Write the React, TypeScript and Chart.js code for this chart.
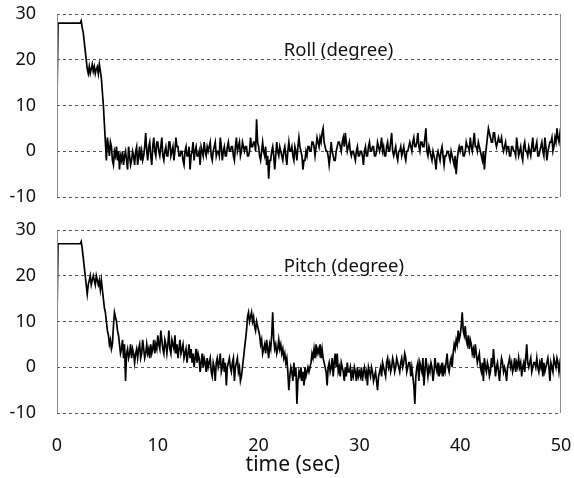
import React, { useEffect, useRef } from 'react';
import { Chart, registerables } from 'chart.js';

Chart.register(...registerables);

// ---------- data ----------
const X_MIN = 0;
const X_MAX = 50;
const X_STEP = 10;
const Y_MIN = -10;
const Y_MAX = 30;
const Y_STEP = 10;
const TIME_STEP = 0.1; // seconds between samples
const ROLL_LABEL = 'Roll (degree)';
const PITCH_LABEL = 'Pitch (degree)';
const X_TITLE = 'time (sec)';
const LABEL_POS = [22.5, 22]; // data coords of panel labels
const X_TITLE_POS = 23.4; // data x of the axis title centre

const ROLL = [
  11, 28, 28, 28, 28, 28, 28, 28, 28, 28, 28, 28, 28, 28, 28, 28, 28, 28, 28, 28, 28, 28, 28, 28, 28.5, 27, 26, 24, 22, 20, 18, 17, 18.5, 17, 18, 19, 17.5, 18.5, 17, 18, 18.5, 17, 19, 17.5, 16, 13, 10, 6, 2, -2,
  3, 1, -1, 2, 1, -2, -3, 0, -1, 1, -2, 0, -4, -1, -2, 0, -3, -1, 0, -2, -4, 1, -1, -3, -2, 0, -1, -3, 0, 1, -3, -1, 1, -2, 0, -2, -1, 1, 4, 0, -2, 1, 2, -1, -3, 1, 3, 0, -1, 2,
  2, 0, -1, 1, 3, -1, -2, 0, 1, -1, -1, 2, 2, -1, 0, 1, -2, 0, 3, 1, 1, -1, -1, 0, 0, -2, -3, 0, 1, -1, -1, 1, -4, -1, 0, 2, -2, 0, 1, -1, -1, 0, -3, 1, 0, -1, 2, 0, -1, 1,
  0, 1, 2, -1, -2, 0, 1, 2, -1, 0, 0, -1, 3, 1, -2, 0, 1, -1, -1, 1, 2, 0, 0, 1, 1, -1, -2, 1, 3, 0, 1, 2, -1, 0, 2, 1, 0, 1, 1, -1, -1, 0, 3, 1, 1, 2, 2, 0, 7, 2,
  1, -1, -2, 0, 2, 0, -1, 1, -3, -1, -6, -2, -2, 0, 1, -1, -4, -1, 2, 0, -1, 1, 0, -1, -2, 0, 1, -1, -3, 0, 2, 0, 0, 1, -1, -2, 1, 0, -2, 1, 3, 1, 0, -1, -4, -2, -2, 0, -1, 1,
  1, 0, 0, 2, 2, 1, -1, 1, 3, 2, 1, 3, 2, 4, 5, 2, 1, 0, 0, -1, -3, -1, 2, 0, -1, -2, -2, 0, 1, 2, 2, 1, 0, 2, 3, 1, 4, 2, 0, 1, 2, 0, -1, 0, 0, -1, -2, 0, 1, -1,
  -1, 0, 0, -1, -3, 0, 1, -1, -1, 1, 2, 0, 0, 1, 1, -1, -1, 0, 2, 1, 0, 1, 3, 0, 1, -1, -1, 1, 2, 0, 0, 2, 4, 0, -1, 0, 1, -1, -2, 0, 0, 1, -1, 0, 1, -1, -2, 0, 0, 1,
  2, 1, 0, 2, 3, 1, 1, 2, 4, 1, 0, 2, 2, 1, 1, 3, 5, 0, -1, 1, 0, -1, -2, 0, -1, -2, -4, -1, 0, -1, -2, 0, 1, -1, -3, -1, -1, 0, 0, -1, -2, 0, -1, -2, -3, -1, -5, -2, 0, 1,
  0, 1, 1, -1, -1, 0, 2, 1, 1, 0, 3, 1, 0, 2, 4, 1, 1, 0, 2, 1, 0, -1, -2, 0, -4, -1, 1, 3, 5, 4, 3, 2, 2, 4, 4, 2, 1, 2, 3, 2, 2, 3, 1, 0, 1, 2, 0, 1, 1, -1,
  -1, 1, 1, 0, 0, -1, 3, 1, -1, 0, 1, -1, -2, 1, 2, 0, 0, -1, 1, 0, -1, 1, 3, 0, 0, 1, 2, -1, -1, 0, 1, 2, 0, -1, 3, 1, -2, 0, 1, 2, 2, 3, 0, 1, 3, 2, 5, 3, 2, 4,
  3,
];

const PITCH = [
  11, 27, 27, 27, 27, 27, 27, 27, 27, 27, 27, 27, 27, 27, 27, 27, 27, 27, 27, 27, 27, 27, 27, 27, 27.5, 26, 24, 22, 20, 18, 16, 18, 19, 20, 18, 19, 20, 19, 18, 20, 19, 18, 19, 17, 19, 17, 15, 13, 12, 10,
  8, 7, 5, 6, 4, 5, 9, 12, 11, 10, 8, 7, 5, 3, 4, 6, 2, 5, -3, 3, 4, 2, 3, 5, 2, 4, 3, 1, 3, 4, 2, 4, 5, 2, 3, 6, 4, 2, 3, 5, 3, 4, 2, 5, 3, 4, 6, 3, 5, 4,
  7, 5, 4, 8, 6, 4, 3, 6, 5, 3, 5, 8, 4, 3, 6, 5, 4, 7, 3, 5, 2, 4, 6, 3, 4, 5, 2, 3, 4, 1, 3, 5, 2, 4, 1, 3, 0, 2, 4, 1, 3, 2, -1, 1, 3, 0, 2, 1, -1, 2,
  0, 1, 2, -1, -2, 1, 0, -3, 1, 2, 0, 1, 3, -1, 0, 2, -1, 1, -4, 0, 1, 2, 0, -1, 1, 2, -3, 0, 1, 2, -1, 0, -3, -2, 0, 2, 4, 6, 8, 11, 12, 10, 11, 12, 10, 11, 9, 8, 10, 9,
  8, 7, 5, 6, 3, 4, 5, 3, 6, 4, 2, 5, 4, 7, 12, 6, 4, 5, 3, 4, 6, 4, 5, 3, 4, 2, 3, 1, 2, -1, -5, -2, 0, -1, -3, 1, -2, 0, -8, -3, -1, -2, 0, -3, -1, -4, 0, -2, -1, 0,
  -1, 0, 1, 3, 2, 4, 2, 5, 3, 4, 3, 5, 2, 4, 2, 1, 0, -1, -4, 0, 1, -1, 0, 2, -2, 1, 3, 0, 3, -1, 0, -2, 1, 0, -1, -3, 0, -2, 1, -1, -1, 0, -3, -1, -2, 0, -1, -3, 0, -2,
  -1, -2, 0, -3, -1, 0, -2, -1, -4, 0, -1, -2, 0, -1, -3, -2, -1, -3, -5, -2, -1, 0, -2, 1, 0, -1, -2, 1, 2, 0, 1, -1, 0, 2, 1, -1, 0, 2, 1, 0, -1, 1, 2, 0, 1, 3, 2, -1, 0, 1,
  1, -2, 0, -2, -4, -8, -2, 0, 1, -3, 1, 0, -1, 2, -4, -1, 2, 0, -2, 0, -1, 1, 0, -3, -1, 2, 0, -1, 1, -2, 0, -1, 1, -2, 0, -1, 1, 3, 0, -1, 1, 2, 0, 3, 5, 4, 6, 5, 8, 6,
  7, 9, 12, 8, 7, 9, 6, 5, 7, 4, 6, 5, 3, 4, 2, 5, 3, 1, 2, 3, 0, -1, 1, -3, 2, 0, -1, 1, 0, -2, -1, 2, 0, 4, 1, -2, 0, 1, -1, -3, 0, 2, 1, -1, 0, -1, -3, 0, 1, 2,
  0, 1, -1, 0, 2, -1, 1, 0, 2, 0, 1, -2, 0, 1, -1, 2, 5, 1, 0, 1, 2, -1, 0, 1, 1, 0, 2, 0, -1, 1, 0, 2, -2, 1, -1, 0, 1, 2, 0, -3, 1, 0, -1, 2, 1, 0, 2, 1, -1, 1,
  0,
];

const FONT = '"Noto Sans", "DejaVu Sans", sans-serif';

const panelPlugin = {
  id: 'panelDecor',
  afterDatasetsDraw(chart: any, _args: any, opts: any) {
    const { ctx, chartArea: a, scales } = chart;
    ctx.save();
    ctx.strokeStyle = '#8a8a8a';
    ctx.lineWidth = 1;
    ctx.setLineDash([]);
    ctx.beginPath();
    ctx.moveTo(a.left + 0.5, a.top);
    ctx.lineTo(a.left + 0.5, a.bottom);
    ctx.moveTo(a.right - 0.5, a.top);
    ctx.lineTo(a.right - 0.5, a.bottom);
    ctx.stroke();
    ctx.fillStyle = '#111';
    ctx.font = '18.5px ' + FONT;
    ctx.textAlign = 'left';
    ctx.textBaseline = 'middle';
    ctx.fillText(opts.text, scales.x.getPixelForValue(LABEL_POS[0]), scales.y.getPixelForValue(LABEL_POS[1]));
    if (opts.title) {
      ctx.font = '21px ' + FONT;
      ctx.textAlign = 'center';
      ctx.fillText(opts.title, scales.x.getPixelForValue(X_TITLE_POS), a.bottom + 52);
    }
    ctx.restore();
  },
};

function Panel({ values, label, showX, height, top }: { values: number[]; label: string; showX: boolean; height: number; top: number }) {
  const ref = useRef<HTMLCanvasElement | null>(null);
  useEffect(() => {
    if (!ref.current) return;
    const pts = values.map((v, i) => ({ x: +(i * TIME_STEP).toFixed(1), y: v }));
    const chart = new Chart(ref.current, {
      type: 'line',
      data: {
        datasets: [
          {
            data: pts,
            borderColor: '#000',
            borderWidth: 1.7,
            pointRadius: 0,
            tension: 0,
            fill: false,
          },
        ],
      },
      options: {
        animation: false,
        responsive: false,
        events: [],
        layout: { padding: { left: 0, right: 13, top: showX ? 20 : 14, bottom: showX ? 0 : 13 } },
        plugins: {
          legend: { display: false },
          tooltip: { enabled: false },
          panelDecor: { text: label, title: showX ? X_TITLE : '' },
        } as any,
        scales: {
          x: {
            type: 'linear',
            min: X_MIN,
            max: X_MAX,
            display: showX,
            grid: { display: false, drawTicks: false },
            border: { display: false },
            ticks: {
              stepSize: X_STEP,
              padding: 22,
              color: '#111',
              font: { size: 18, family: FONT },
              maxRotation: 0,
            },
            title: { display: false },
            afterFit: (s: any) => {
              s.height = showX ? 65 : 0;
              s.paddingLeft = 0;
              s.paddingRight = 0;
            },
          },
          y: {
            type: 'linear',
            min: Y_MIN,
            max: Y_MAX,
            grid: { color: '#555', lineWidth: 1, drawTicks: false },
            border: { display: false, dash: [3, 3] },
            ticks: {
              stepSize: Y_STEP,
              padding: 21,
              color: '#111',
              font: { size: 18, family: FONT },
            },
            afterFit: (s: any) => {
              s.width = 57;
              s.paddingTop = 0;
              s.paddingBottom = 0;
            },
          },
        },
      },
      plugins: [panelPlugin],
    } as any);
    return () => chart.destroy();
  }, [values, label, showX]);
  return (
    <canvas
      ref={ref}
      width={574}
      height={height}
      style={{ position: 'absolute', left: 0, top, width: 574, height }}
    />
  );
}

export default function App() {
  return (
    <div style={{ position: 'absolute', left: 0, top: 0, width: 574, height: 478, background: '#fff' }}>
      <Panel values={ROLL} label={ROLL_LABEL} showX={false} height={210} top={0} />
      <Panel values={PITCH} label={PITCH_LABEL} showX={true} height={268} top={210} />
    </div>
  );
}
